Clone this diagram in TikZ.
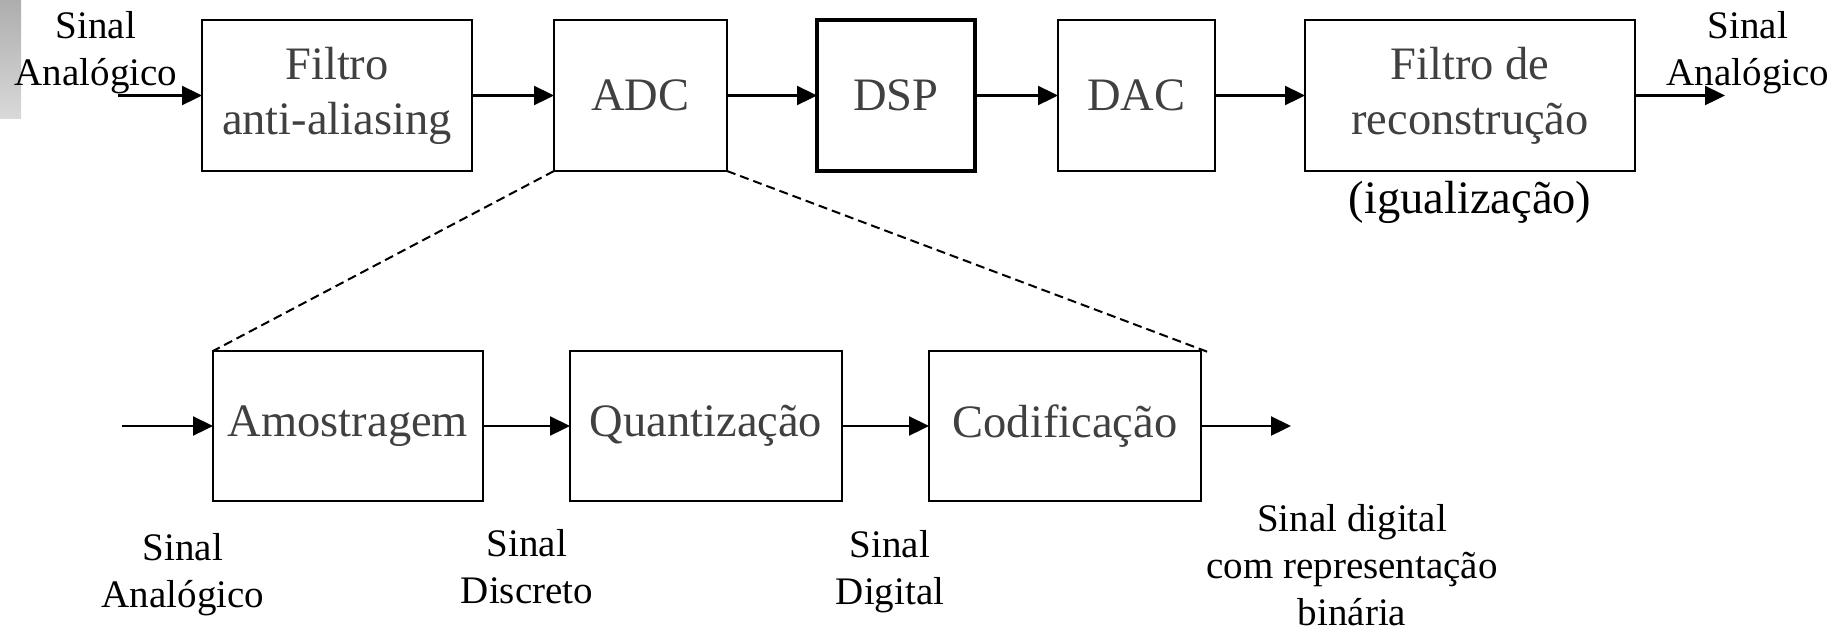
\documentclass[tikz,border=0pt]{standalone}
\usepackage{fontspec}
\setmainfont{Liberation Serif}
\usetikzlibrary{arrows.meta}
\definecolor{boxtext}{HTML}{404040}
\begin{document}
\begin{tikzpicture}[x=1pt,y=-1pt,
  block/.style={draw, line width=2.3pt, rectangle, outer sep=0pt, inner sep=0pt,
    minimum height=151pt, text=boxtext, align=center,
    font=\fontsize{46.5}{55}\selectfont},
  dspblock/.style={block, line width=4pt},
  siglabel/.style={align=center, inner sep=0pt, font=\fontsize{39}{47}\selectfont},
  flow/.style={line width=2.3pt, -{Triangle[length=20pt,width=19pt]}},
  zoomline/.style={line width=2pt, dash pattern=on 9pt off 5pt}
]
\useasboundingbox (0,0) rectangle (1837,633);

% side tab
\shade[top color=black!32, bottom color=black!15] (0,0) rectangle (21,118);

% main processing chain
\node[block, minimum width=270pt] (filt) at (337,95.5) {Filtro\\anti-aliasing};
\node[block, minimum width=173pt] (adc)  at (640.5,95.5) {ADC};
\node[dspblock, minimum width=158pt] (dsp) at (896,95.5) {DSP};
\node[block, minimum width=157pt] (dac)  at (1136.5,95.5) {DAC};
\node[block, minimum width=330pt] (rec)  at (1470,95.5) {Filtro de\\reconstrução};
\node[siglabel, font=\fontsize{46.5}{55}\selectfont] (igual) at (1470,202) {(igualização)};

\node[siglabel] (inlab)  at (96,52.5) {Sinal\\Analógico};
\node[siglabel] (outlab) at (1748,52.5) {Sinal\\Analógico};

\coordinate (inA)  at (118,95.5);
\coordinate (outA) at (1725,95.5);
\draw[flow] (inA) -- (filt.west);
\draw[flow] (filt.east) -- (adc.west);
\draw[flow] (adc.east) -- (dsp.west);
\draw[flow] (dsp.east) -- (dac.west);
\draw[flow] (dac.east) -- (rec.west);
\draw[flow] (rec.east) -- (outA);

% ADC detail
\node[block, minimum width=270pt, minimum height=150pt] (amo)   at (348,426) {Amostragem};
\node[block, minimum width=272pt, minimum height=150pt] (quant) at (706,426) {Quantização};
\node[block, minimum width=272pt, minimum height=150pt] (cod)   at (1065,426) {Codificação};

\coordinate (inB)  at (122,426);
\coordinate (outB) at (1291,426);
\draw[flow] (inB) -- (amo.west);
\draw[flow] (amo.east) -- (quant.west);
\draw[flow] (quant.east) -- (cod.west);
\draw[flow] (cod.east) -- (outB);

\coordinate (zoomEnd) at (1208,352);
\draw[zoomline] (adc.south west) -- (amo.north west);
\draw[zoomline] (adc.south east) -- (zoomEnd);

% signal names
\node[siglabel] (s1) at (183,574.5) {Sinal\\Analógico};
\node[siglabel] (s2) at (527,567) {Sinal\\Discreto};
\node[siglabel] (s3) at (890,571.5) {Sinal\\Digital};
\node[siglabel] (s4) at (1352,564.7) {Sinal digital\\com representação\\binária};
\end{tikzpicture}
\end{document}
